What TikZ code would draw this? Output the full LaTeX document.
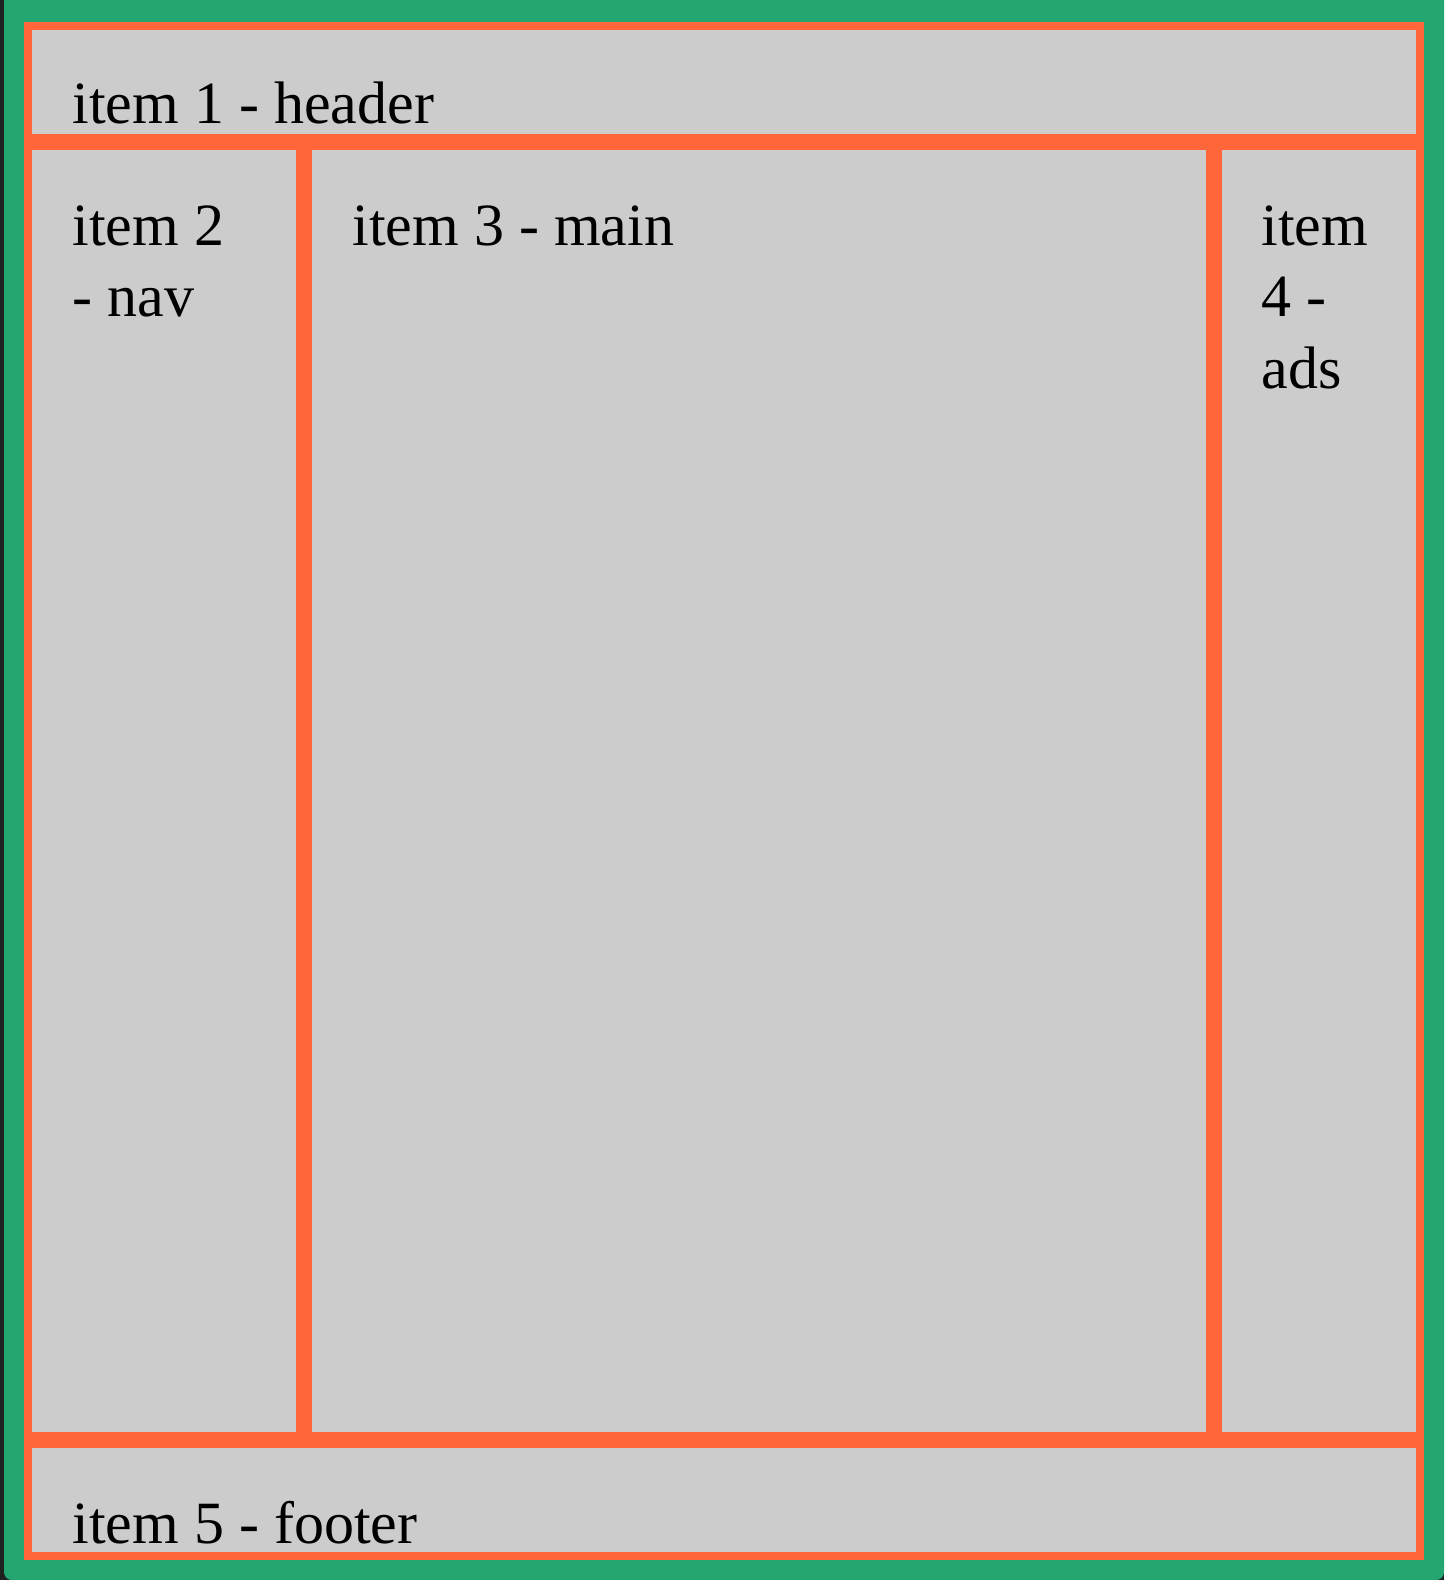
\documentclass[tikz,border=0pt]{standalone}
\usepackage{fontspec}
\setmainfont{Liberation Serif}
\definecolor{bggreen}{RGB}{35,166,111}
\definecolor{gridorange}{RGB}{255,103,59}
\definecolor{cellgray}{RGB}{204,204,204}
\definecolor{darkedge}{RGB}{30,34,33}
\newcommand{\celllines}[1]{\begin{tabular}[t]{@{}l@{}}#1\end{tabular}}
\tikzset{
  cell/.style={fill=cellgray, draw=none},
  celltext/.style={anchor=base west, inner sep=0pt, outer sep=0pt,
    font=\fontsize{60}{71.5}\selectfont, text=black}
}
\begin{document}
\begin{tikzpicture}[x=1pt,y=-1pt]
\useasboundingbox (0,0) rectangle (1444,1580);
\fill[darkedge] (0,0) rectangle (1444,1580);
\fill[bggreen, rounded corners=8pt] (4,-20) rectangle (1444,1580);
\fill[bggreen] (4,0) rectangle (1444,40);
\fill[gridorange] (24,22) rectangle (1424,1560);
\fill[cell] (32,30) rectangle (1416,134);
\fill[cell] (32,150) rectangle (296,1432);
\fill[cell] (312,150) rectangle (1206,1432);
\fill[cell] (1222,150) rectangle (1416,1432);
\fill[cell] (32,1448) rectangle (1416,1552);
\node[celltext] (header) at (72.5,123) {item 1 - header};
\node[celltext] (nav) at (72.5,245) {\celllines{item 2\\- nav}};
\node[celltext] (main) at (352.5,245) {item 3 - main};
\node[celltext] (ads) at (1261.5,245) {\celllines{item\\4 -\\ads}};
\node[celltext] (footer) at (72.5,1543) {item 5 - footer};
\end{tikzpicture}
\end{document}
